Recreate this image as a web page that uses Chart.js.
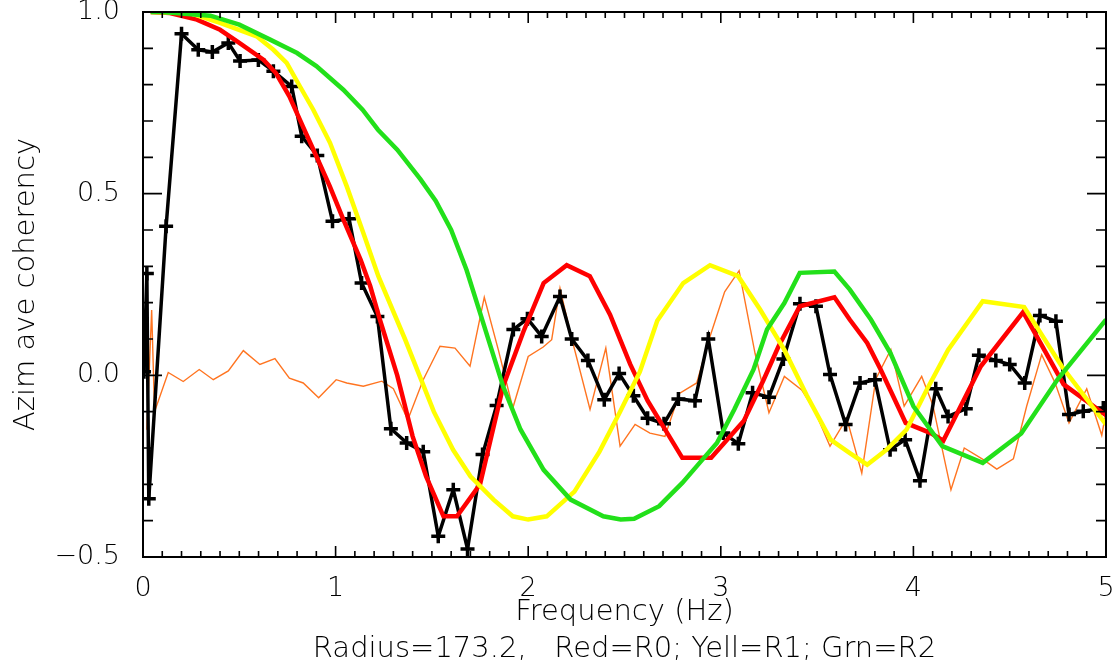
<!DOCTYPE html>
<html>
<head>
<meta charset="utf-8">
<script src="https://cdn.jsdelivr.net/npm/chart.js@4.4.1/dist/chart.umd.min.js"></script>
<style>
  html, body { margin: 0; padding: 0; background: #ffffff; }
  #wrap { width: 1119px; height: 668px; }
</style>
</head>
<body>
<div id="wrap"><canvas id="chart" width="1119" height="668"></canvas></div>
<script>
// Axis / caption text
const xTitle = 'Frequency (Hz)';
const captionText = 'Radius=173.2,   Red=R0; Yell=R1; Grn=R2';
const yTitle = 'Azim ave coherency';

// Measured azimuthally averaged coherency (black, with + markers)
const freqMeas = [0.005, 0.02, 0.03, 0.12, 0.20, 0.287, 0.36, 0.443, 0.504, 0.599,
  0.677, 0.772, 0.824, 0.905, 0.984, 1.07, 1.135, 1.217, 1.287, 1.369,
  1.455, 1.533, 1.611, 1.685, 1.763, 1.836, 1.923, 1.996, 2.07, 2.165,
  2.226, 2.31, 2.395, 2.472, 2.546, 2.62, 2.705, 2.78, 2.866, 2.935,
  3.013, 3.091, 3.165, 3.25, 3.325, 3.411, 3.494, 3.567, 3.648, 3.723,
  3.80, 3.879, 3.957, 4.034, 4.116, 4.18, 4.272, 4.34, 4.428, 4.50,
  4.578, 4.657, 4.74, 4.808, 4.882, 4.986];
const cohMeas = [0.01, 0.28, -0.34, 0.41, 0.94, 0.896, 0.89, 0.915, 0.865, 0.868,
  0.837, 0.795, 0.658, 0.605, 0.424, 0.431, 0.254, 0.162, -0.147, -0.186,
  -0.21, -0.443, -0.315, -0.478, -0.218, -0.083, 0.126, 0.156, 0.107, 0.217,
  0.10, 0.041, -0.067, 0.005, -0.056, -0.118, -0.133, -0.065, -0.07, 0.10,
  -0.159, -0.188, -0.048, -0.06, 0.045, 0.197, 0.19, 0.002, -0.135, -0.021,
  -0.012, -0.205, -0.177, -0.29, -0.037, -0.113, -0.092, 0.055, 0.041, 0.03,
  -0.021, 0.165, 0.149, -0.108, -0.099, -0.09];

// Second estimate (thin orange line)
const freqAlt = [0.02, 0.045, 0.06, 0.131, 0.209, 0.292, 0.365, 0.443, 0.521, 0.607,
  0.685, 0.76, 0.832, 0.912, 1.003, 1.058, 1.144, 1.24, 1.30, 1.375,
  1.455, 1.542, 1.62, 1.698, 1.772, 1.845, 1.92, 2.0, 2.078, 2.122,
  2.165, 2.217, 2.321, 2.403, 2.477, 2.555, 2.632, 2.71, 2.785, 2.875,
  2.944, 3.02, 3.095, 3.178, 3.25, 3.33, 3.42, 3.49, 3.567, 3.654,
  3.732, 3.805, 3.883, 3.952, 4.043, 4.10, 4.195, 4.264, 4.363, 4.433,
  4.519, 4.588, 4.666, 4.735, 4.808, 4.9, 4.978, 5.0];
const cohAlt = [-0.15, 0.18, -0.10, 0.008, -0.017, 0.016, -0.012, 0.012, 0.068, 0.03,
  0.046, -0.008, -0.021, -0.062, -0.012, -0.021, -0.03, -0.016, -0.037, -0.122,
  -0.012, 0.08, 0.075, 0.025, 0.215, 0.07, -0.09, 0.052, 0.078, 0.098,
  0.24, 0.12, -0.094, 0.075, -0.195, -0.135, -0.159, -0.168, -0.05, -0.021,
  0.107, 0.23, 0.288, 0.06, -0.103, -0.003, -0.04, -0.10, -0.195, -0.118,
  -0.269, -0.01, 0.071, -0.085, -0.003, -0.08, -0.315, -0.2, -0.232, -0.258,
  -0.23, -0.085, 0.057, -0.02, -0.131, -0.037, -0.165, -0.1];

// Model curve R0 (red)
const freqR0 = [0.04, 0.14, 0.28, 0.40, 0.50, 0.625, 0.69, 0.76, 0.83, 0.90,
  0.97, 1.04, 1.13, 1.18, 1.23, 1.32, 1.40, 1.47, 1.56, 1.63,
  1.75, 1.87, 1.975, 2.08, 2.20, 2.32, 2.425, 2.53, 2.62, 2.80,
  2.95, 3.12, 3.22, 3.30, 3.41, 3.59, 3.67, 3.76, 3.83, 3.96,
  4.09, 4.155, 4.35, 4.57, 4.78, 5.0];
const cohR0 = [1.0, 0.997, 0.979, 0.951, 0.915, 0.869, 0.832, 0.768, 0.685, 0.603,
  0.52, 0.429, 0.318, 0.245, 0.153, 0.0, -0.168, -0.278, -0.388, -0.388,
  -0.30, -0.03, 0.12, 0.254, 0.303, 0.273, 0.167, 0.03, -0.07, -0.227,
  -0.227, -0.125, -0.015, 0.08, 0.19, 0.215, 0.153, 0.089, 0.016, -0.131,
  -0.159, -0.18, 0.025, 0.174, -0.025, -0.11];

// Model curve R1 (yellow)
const freqR1 = [0.04, 0.244, 0.40, 0.59, 0.677, 0.746, 0.815, 0.884, 0.971, 1.058,
  1.144, 1.222, 1.36, 1.51, 1.61, 1.70, 1.82, 1.92, 2.0, 2.096,
  2.24, 2.37, 2.477, 2.58, 2.67, 2.805, 2.944, 3.09, 3.204, 3.33,
  3.446, 3.57, 3.67, 3.76, 3.86, 3.965, 4.07, 4.18, 4.36, 4.575,
  4.77, 5.0];
const cohR1 = [1.0, 0.997, 0.97, 0.933, 0.896, 0.86, 0.795, 0.731, 0.64, 0.52,
  0.392, 0.273, 0.10, -0.10, -0.205, -0.278, -0.342, -0.388, -0.397, -0.388,
  -0.32, -0.21, -0.10, 0.01, 0.15, 0.254, 0.303, 0.273, 0.181, 0.07,
  -0.055, -0.177, -0.214, -0.246, -0.205, -0.149, -0.039, 0.07, 0.204, 0.188,
  0.025, -0.135];

// Model curve R2 (green)
const freqR2 = [0.04, 0.10, 0.35, 0.50, 0.66, 0.80, 0.90, 1.04, 1.14, 1.22,
  1.32, 1.44, 1.52, 1.60, 1.68, 1.75, 1.87, 1.96, 2.08, 2.22,
  2.39, 2.48, 2.55, 2.68, 2.80, 2.89, 2.98, 3.07, 3.17, 3.24,
  3.33, 3.41, 3.59, 3.67, 3.78, 3.88, 4.0, 4.15, 4.36, 4.56,
  4.75, 5.0];
const cohR2 = [1.0, 1.0, 0.99, 0.965, 0.924, 0.887, 0.851, 0.786, 0.731, 0.676,
  0.621, 0.54, 0.48, 0.40, 0.29, 0.172, -0.031, -0.149, -0.26, -0.342,
  -0.388, -0.397, -0.395, -0.36, -0.296, -0.241, -0.186, -0.094, 0.016, 0.126,
  0.199, 0.282, 0.286, 0.236, 0.153, 0.062, -0.085, -0.195, -0.241, -0.16,
  -0.01, 0.153];

const FONT = '"DejaVu Sans", sans-serif';
const TITLE_SIZE = 29;
const TICK_SIZE = 27;
const WEIGHT = '200';

const pts = (xs, ys) => xs.map((x, i) => ({ x: x, y: ys[i] }));
const isMult = (v, step) => Math.abs(v / step - Math.round(v / step)) < 1e-6;
const fmtY = v => (v < -1e-9 ? '\u2212' : '') + Math.abs(v).toFixed(1);

// Box frame with inward tick marks on all four sides
const frameTicks = {
  id: 'frameTicks',
  afterDatasetsDraw(chart) {
    const { ctx, chartArea: a, scales } = chart;
    const xs = scales.x, ys = scales.y;
    ctx.save();
    ctx.strokeStyle = '#000';
    ctx.lineWidth = 1.6;
    ctx.beginPath();
    xs.ticks.forEach(t => {
      const px = xs.getPixelForValue(t.value);
      const len = isMult(t.value, 1) ? 11 : 6;
      ctx.moveTo(px, a.bottom); ctx.lineTo(px, a.bottom - len);
      ctx.moveTo(px, a.top); ctx.lineTo(px, a.top + len);
    });
    ys.ticks.forEach(t => {
      const py = ys.getPixelForValue(t.value);
      const len = isMult(t.value, 0.5) ? 19 : 10;
      ctx.moveTo(a.left, py); ctx.lineTo(a.left + len, py);
      ctx.moveTo(a.right, py); ctx.lineTo(a.right - len, py);
    });
    ctx.stroke();
    ctx.lineWidth = 2;
    ctx.strokeRect(a.left, a.top, a.right - a.left, a.bottom - a.top);
    ctx.restore();
  }
};

new Chart(document.getElementById('chart'), {
  type: 'line',
  data: {
    datasets: [
      { label: 'R2', data: pts(freqR2, cohR2), borderColor: '#22e01a', borderWidth: 4.5, pointRadius: 0, order: 0 },
      { label: 'R1', data: pts(freqR1, cohR1), borderColor: '#ffff00', borderWidth: 4.5, pointRadius: 0, order: 1 },
      { label: 'R0', data: pts(freqR0, cohR0), borderColor: '#ff0000', borderWidth: 4.5, pointRadius: 0, order: 2 },
      { label: 'measured', data: pts(freqMeas, cohMeas), borderColor: '#000000', borderWidth: 3.5,
        pointStyle: 'cross', pointRadius: 7, pointBorderWidth: 3.5, pointBorderColor: '#000000', order: 3 },
      { label: 'alt', data: pts(freqAlt, cohAlt), borderColor: '#ff7420', borderWidth: 1.4, pointRadius: 0, order: 4 }
    ]
  },
  options: {
    responsive: false,
    animation: false,
    events: [],
    layout: { padding: { left: 0, right: 13, top: 12, bottom: 0 } },
    elements: { line: { tension: 0, fill: false } },
    plugins: { legend: { display: false }, tooltip: { enabled: false } },
    scales: {
      x: {
        type: 'linear', min: 0, max: 5,
        grid: { display: false }, border: { display: false },
        ticks: {
          stepSize: 0.1, autoSkip: false, maxRotation: 0, padding: 8,
          color: '#000', font: { family: FONT, size: TICK_SIZE, weight: WEIGHT },
          callback: v => isMult(v, 1) ? String(Math.round(v)) : ''
        },
        title: {
          display: true, text: [xTitle, captionText], color: '#000',
          font: { family: FONT, size: TITLE_SIZE, weight: WEIGHT, lineHeight: 1.27 },
          padding: { top: 0, bottom: 0 }
        },
        afterFit(s) { s.height = 111; s.paddingLeft = 0; s.paddingRight = 0; }
      },
      y: {
        type: 'linear', min: -0.5, max: 1.0,
        grid: { display: false }, border: { display: false },
        ticks: {
          stepSize: 0.1, autoSkip: false, padding: 15,
          color: '#000', font: { family: FONT, size: TICK_SIZE, weight: WEIGHT },
          callback: v => isMult(v, 0.5) ? fmtY(v) : ''
        },
        title: {
          display: true, text: yTitle, color: '#000',
          font: { family: FONT, size: TITLE_SIZE, weight: WEIGHT, lineHeight: 1.2 },
          padding: { top: 9, bottom: 0 }
        },
        afterFit(s) { s.width = 143; s.paddingTop = 0; s.paddingBottom = 0; }
      }
    }
  },
  plugins: [frameTicks]
});
</script>
</body>
</html>
